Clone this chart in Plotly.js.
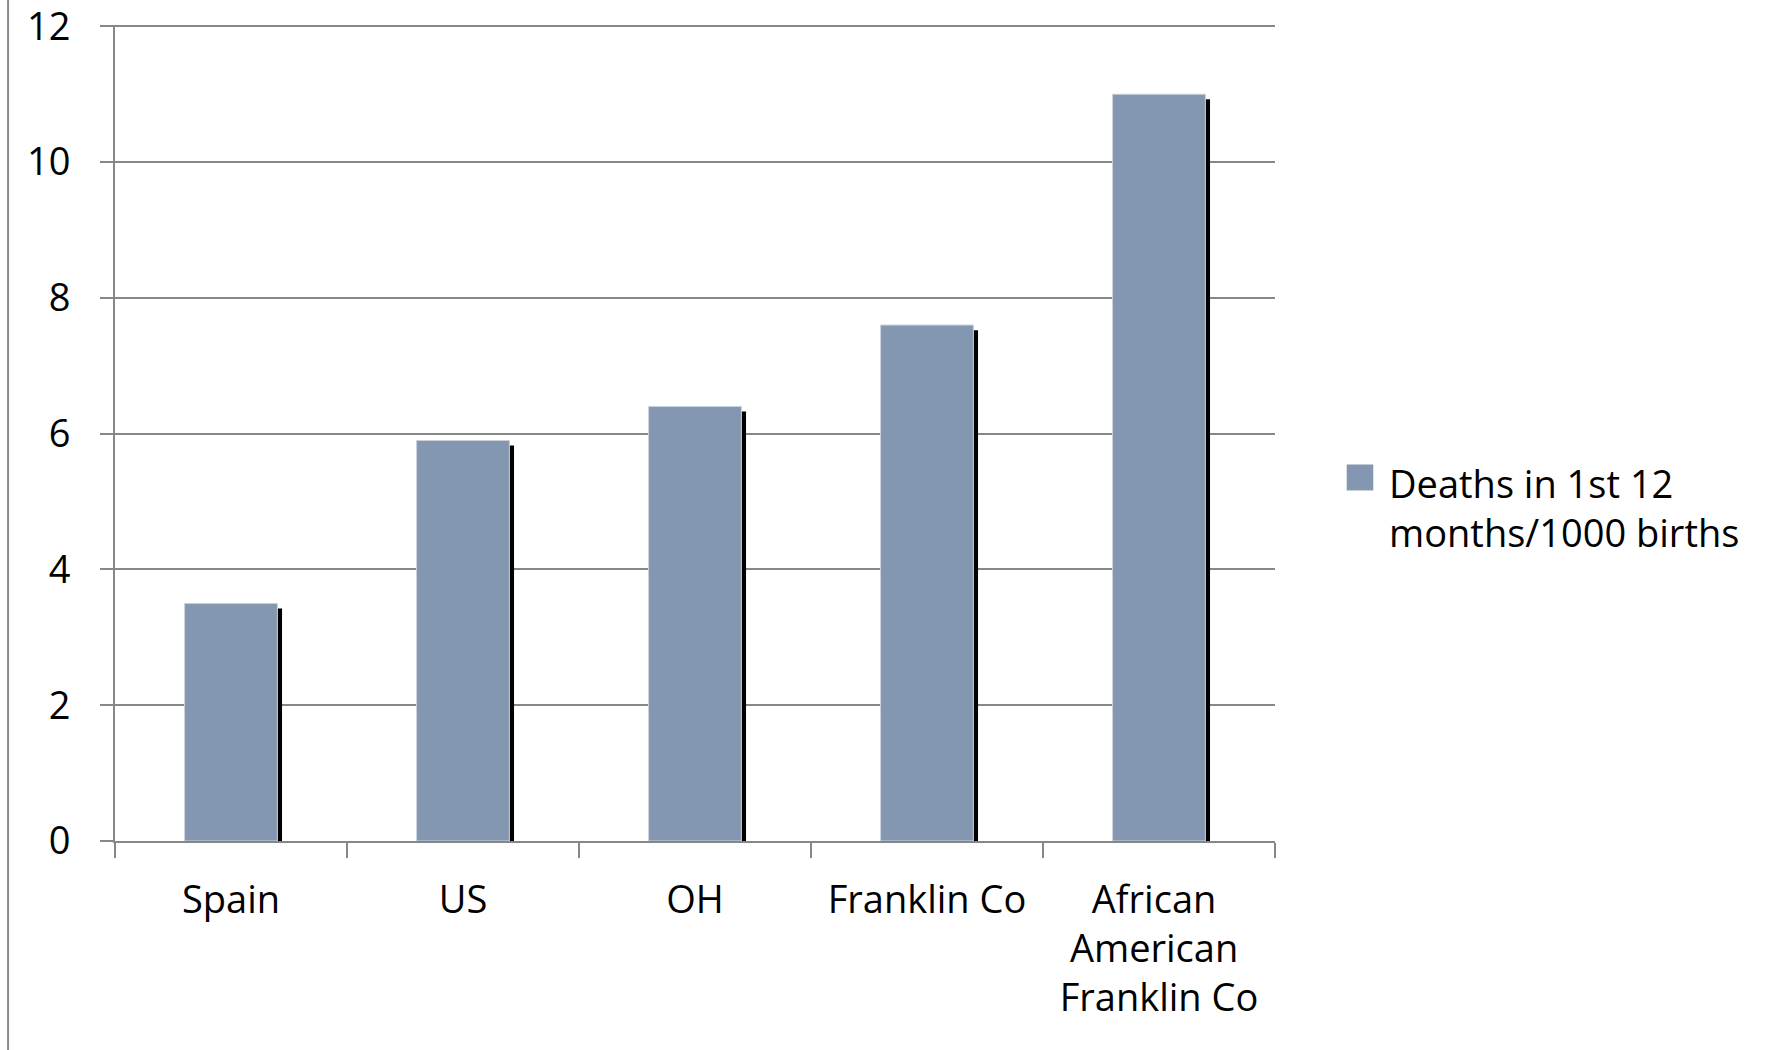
<!DOCTYPE html>
<html>
<head>
<meta charset="utf-8">
<script src="https://cdn.plot.ly/plotly-3.0.1.min.js"></script>
<style>
html, body { margin: 0; padding: 0; background: #ffffff; }
#chart { width: 1779px; height: 1050px; }
</style>
</head>
<body>
<div id="chart"></div>
<script>
// ---- data ----
const categories = ["Spain", "US", "OH", "Franklin Co", "African <br>American <br>Franklin Co"];
const deathsPer1000 = [3.5, 5.9, 6.4, 7.6, 11.0];
const seriesName = "Deaths in 1st 12 <br>months/1000 births";
const yTickValues = [0, 2, 4, 6, 8, 10, 12];
const yTickLabels = ["0", "2", "4", "6", "8", "10", "12"];

// ---- style ----
const FONT = "'Open Sans', Lato, Carlito, Calibri, sans-serif";
const FONT_SIZE = 38;
const BAR_COLOR = "#8497B0";
const GRID = "#878787";
const BAR_WIDTH = 0.4;
const SHADOW_DX = 0.02;   // category units
const SHADOW_DY = 0.075;  // value units

const shadow = {
  type: "bar",
  x: categories,
  y: deathsPer1000.map(v => v - SHADOW_DY),
  width: BAR_WIDTH,
  offset: -BAR_WIDTH / 2 + SHADOW_DX,
  marker: { color: "#000000", line: { width: 0 } },
  hoverinfo: "skip",
  showlegend: false
};

const bars = {
  type: "bar",
  name: seriesName,
  x: categories,
  y: deathsPer1000,
  width: BAR_WIDTH,
  offset: -BAR_WIDTH / 2,
  marker: { color: BAR_COLOR, line: { color: "#C8D1DE", width: 1 } },
  showlegend: false
};

const layout = {
  width: 1779,
  height: 1050,
  paper_bgcolor: "#ffffff",
  plot_bgcolor: "#ffffff",
  margin: { l: 115, r: 504, t: 25, b: 208.7, pad: 0 },
  barmode: "overlay",
  showlegend: false,
  font: { family: FONT, size: FONT_SIZE, color: "#000000" },
  xaxis: {
    type: "category",
    showline: true,
    linecolor: GRID,
    linewidth: 2,
    ticks: "outside",
    tickson: "boundaries",
    ticklen: 15,
    tickwidth: 2,
    tickcolor: GRID,
    showgrid: false,
    ticklabelstandoff: 24,
    tickfont: { family: FONT, size: FONT_SIZE, color: "#000000" }
  },
  yaxis: {
    range: [0, 12.02],
    tickvals: yTickValues,
    ticktext: yTickLabels,
    showline: true,
    linecolor: GRID,
    linewidth: 2,
    ticks: "outside",
    ticklen: 13,
    tickwidth: 2,
    tickcolor: GRID,
    showgrid: true,
    gridcolor: GRID,
    gridwidth: 2,
    zeroline: false,
    ticklabelstandoff: 22,
    ticklabeloverflow: "allow",
    tickfont: { family: FONT, size: FONT_SIZE, color: "#000000" }
  },
  shapes: [
    // legend swatch
    { type: "rect", xref: "paper", yref: "paper", x0: 1.0618, x1: 1.0847, y0: 0.4296, y1: 0.4614,
      fillcolor: BAR_COLOR, line: { width: 0 } },
    // slide border on the left
    { type: "line", xref: "paper", yref: "paper", x0: -0.0922, x1: -0.0922, y0: -0.3, y1: 1.1,
      line: { color: "#8a8a8a", width: 2 } }
  ],
  annotations: [
    { xref: "paper", yref: "paper", x: 1.0966, y: 0.409, xanchor: "left", yanchor: "middle",
      align: "left", showarrow: false, text: seriesName,
      font: { family: FONT, size: FONT_SIZE, color: "#000000" } }
  ]
};

Plotly.newPlot("chart", [shadow, bars], layout, { displayModeBar: false, staticPlot: true });
</script>
</body>
</html>
